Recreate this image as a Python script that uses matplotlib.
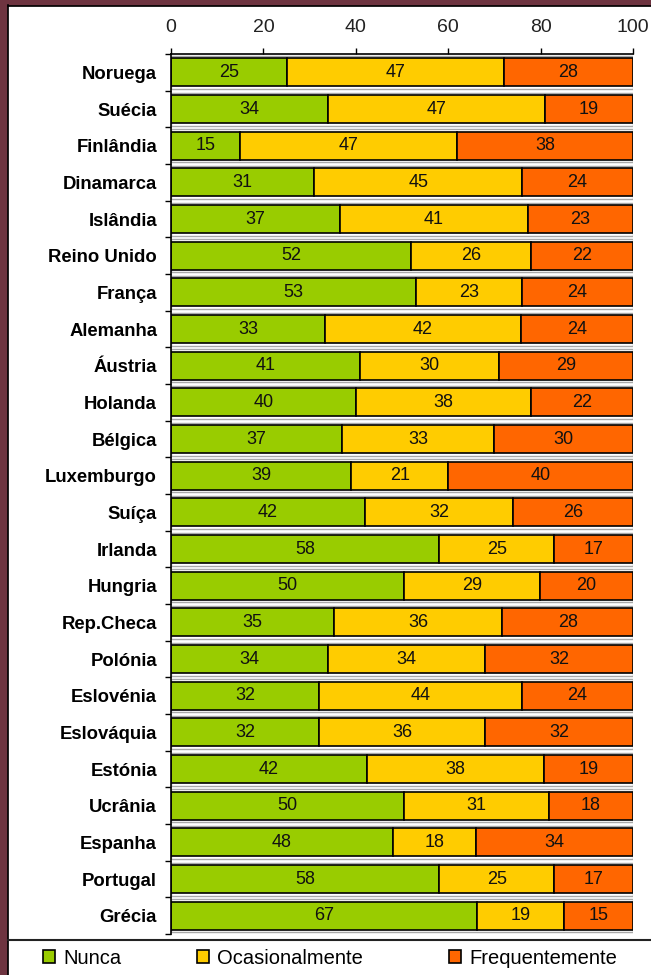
import numpy as np
import matplotlib.pyplot as plt
from matplotlib.patches import Patch, Rectangle
from matplotlib.lines import Line2D

# Survey shares per country (%)
countries = ['Noruega', 'Suécia', 'Finlândia', 'Dinamarca', 'Islândia', 'Reino Unido',
             'França', 'Alemanha', 'Áustria', 'Holanda', 'Bélgica', 'Luxemburgo',
             'Suíça', 'Irlanda', 'Hungria', 'Rep.Checa', 'Polónia', 'Eslovénia',
             'Eslováquia', 'Estónia', 'Ucrânia', 'Espanha', 'Portugal', 'Grécia']
nunca = [25, 34, 15, 31, 37, 52, 53, 33, 41, 40, 37, 39, 42, 58, 50, 35, 34, 32, 32, 42, 50, 48, 58, 67]
ocasional = [47, 47, 47, 45, 41, 26, 23, 42, 30, 38, 33, 21, 32, 25, 29, 36, 34, 44, 36, 38, 31, 18, 25, 19]
frequente = [28, 19, 38, 24, 23, 22, 24, 24, 29, 22, 30, 40, 26, 17, 20, 28, 32, 24, 32, 19, 18, 34, 17, 15]
series_names = ['Nunca', 'Ocasionalmente', 'Frequentemente']
colors = ['#99CC00', '#FFCC00', '#FF6600']

plt.rcParams['font.family'] = ['Liberation Sans', 'DejaVu Sans']

vals = np.array([nunca, ocasional, frequente], dtype=float)
pct = vals / vals.sum(axis=0) * 100  # 100% stacked
y = np.arange(len(countries))

fig = plt.figure(figsize=(6.51, 9.75), dpi=100)
ax = fig.add_axes([171 / 651, 1 - 934 / 975, 462 / 651, 880 / 975])

# light "depth" frame behind each row
ax.barh(y, 100, height=0.9, left=0, color='white', edgecolor='#a8a8a8', linewidth=1, zorder=1)

left = np.zeros(len(countries))
for i in range(3):
    ax.barh(y, pct[i], left=left, height=0.76, color=colors[i], edgecolor='black',
            linewidth=1.2, zorder=2)
    for j in range(len(countries)):
        ax.text(left[j] + pct[i][j] / 2, y[j], f'{int(vals[i][j])}', ha='center', va='center',
                fontsize=13, color='#111111', zorder=3)
    left += pct[i]

ax.set_xlim(0, 100)
ax.set_ylim(len(countries) - 0.5, -0.5)
ax.xaxis.tick_top()
ax.set_xticks([0, 20, 40, 60, 80, 100])
ax.tick_params(axis='x', length=4, pad=9, labelsize=14, labelcolor='#222222', width=1)
ax.set_yticks(y)
ax.set_yticklabels(countries, fontweight='bold', fontsize=13.3)
ax.set_yticks(np.arange(len(countries) + 1) - 0.5, minor=True)
ax.tick_params(axis='y', which='major', length=0, pad=10)
ax.tick_params(axis='y', which='minor', length=4, width=1)
for s in ['right', 'bottom']:
    ax.spines[s].set_visible(False)
ax.spines['top'].set_linewidth(1.2)
ax.spines['left'].set_linewidth(1.2)

# outer frame and separator
fig.patches.append(Rectangle((0, 0), 7 / 651, 1, transform=fig.transFigure, color='#6E3440', zorder=0))
fig.patches.append(Rectangle((0, 1 - 5 / 975), 1, 5 / 975, transform=fig.transFigure, color='#6E3440', zorder=0))
fig.lines.append(Line2D([7.5 / 651, 7.5 / 651], [0, 1 - 5 / 975], transform=fig.transFigure, color='black', lw=1.2))
fig.lines.append(Line2D([7.5 / 651, 1], [1 - 5.5 / 975, 1 - 5.5 / 975], transform=fig.transFigure, color='black', lw=1.2))
fig.lines.append(Line2D([8 / 651, 1], [1 - 940 / 975, 1 - 940 / 975], transform=fig.transFigure, color='#222222', lw=1.5))

# legend entries placed one by one
legend_x = [43, 197, 449]
for name, c, lx in zip(series_names, colors, legend_x):
    fig.legend([Patch(facecolor=c, edgecolor='black', linewidth=1.2)], [name],
               loc='center left', bbox_to_anchor=(lx / 651, 1 - 958 / 975),
               frameon=False, fontsize=14.5, handlelength=0.6, handleheight=0.6,
               handletextpad=0.4, borderpad=0, borderaxespad=0)

fig.savefig('out.png', dpi=100)
